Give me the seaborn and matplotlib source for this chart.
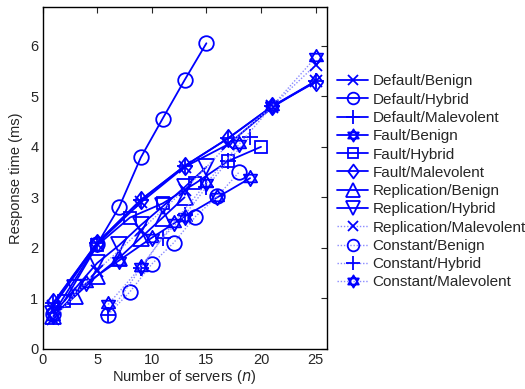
import numpy as np
import pandas as pd
import matplotlib
matplotlib.use("Agg")
import matplotlib.pyplot as plt
from matplotlib.path import Path
import seaborn as sns

# ---- data ----
default_benign_n = [1, 5, 9, 13, 17, 21, 25]
default_benign_t = [0.85, 2.08, 2.9, 3.6, 4.05, 4.78, 5.3]
default_hybrid_n = [1, 5, 7, 9, 11, 13, 15]
default_hybrid_t = [0.7, 2.07, 2.8, 3.79, 4.56, 5.32, 6.05]
default_malev_n = [1, 5, 9, 13, 17, 21, 25]
default_malev_t = [0.9, 2.1, 2.95, 3.62, 4.17, 4.8, 5.3]
fault_benign_n = [1, 4, 7, 10, 13, 16, 19]
fault_benign_t = [0.65, 1.3, 1.75, 2.2, 2.62, 3.0, 3.38]
fault_hybrid_n = [2, 5, 8, 11, 14, 17, 20]
fault_hybrid_t = [0.95, 2.05, 2.6, 2.88, 3.28, 3.72, 4.0]
fault_malev_n = [1, 5, 9, 13, 17, 21, 25]
fault_malev_t = [0.92, 2.1, 2.95, 3.62, 4.17, 4.8, 5.28]
repl_benign_n = [1, 3, 5, 7, 9, 11, 13]
repl_benign_t = [0.65, 1.05, 1.45, 1.8, 2.2, 2.6, 3.0]
repl_hybrid_n = [1, 3, 5, 7, 9, 11, 13, 15]
repl_hybrid_t = [0.7, 1.2, 1.7, 2.05, 2.45, 2.82, 3.2, 3.6]
repl_malev_n = [1, 5, 9, 13, 17, 21, 25]
repl_malev_t = [0.6, 1.55, 2.35, 3.15, 4.05, 4.8, 5.62]
const_benign_n = [6, 8, 10, 12, 14, 16, 18]
const_benign_t = [0.68, 1.13, 1.68, 2.1, 2.62, 3.02, 3.5]
const_hybrid_n = [6, 9, 11, 13, 15, 17, 19]
const_hybrid_t = [0.68, 1.6, 2.2, 2.65, 3.2, 3.72, 4.2]
const_malev_n = [6, 9, 12, 15, 18, 21, 25]
const_malev_t = [0.88, 1.62, 2.5, 3.28, 4.05, 4.8, 5.77]

labels = ["Default/Benign", "Default/Hybrid", "Default/Malevolent",
          "Fault/Benign", "Fault/Hybrid", "Fault/Malevolent",
          "Replication/Benign", "Replication/Hybrid", "Replication/Malevolent",
          "Constant/Benign", "Constant/Hybrid", "Constant/Malevolent"]
ns = [default_benign_n, default_hybrid_n, default_malev_n,
      fault_benign_n, fault_hybrid_n, fault_malev_n,
      repl_benign_n, repl_hybrid_n, repl_malev_n,
      const_benign_n, const_hybrid_n, const_malev_n]
ts = [default_benign_t, default_hybrid_t, default_malev_t,
      fault_benign_t, fault_hybrid_t, fault_malev_t,
      repl_benign_t, repl_hybrid_t, repl_malev_t,
      const_benign_t, const_hybrid_t, const_malev_t]

# ---- styles ----
hexagram = Path([(0, 1), (0.866, -0.5), (-0.866, -0.5), (0, 1),
                 (0, -1), (0.866, 0.5), (-0.866, 0.5), (0, -1)],
                [Path.MOVETO, Path.LINETO, Path.LINETO, Path.CLOSEPOLY,
                 Path.MOVETO, Path.LINETO, Path.LINETO, Path.CLOSEPOLY])
diamond = Path([(0, 1), (0.75, 0), (0, -1), (-0.75, 0), (0, 1)],
               [Path.MOVETO, Path.LINETO, Path.LINETO, Path.LINETO, Path.CLOSEPOLY])
markers = ['x', 'o', '+', hexagram, 's', diamond, '^', 'v', 'x', 'o', '+', hexagram]
msizes = [9, 10.5, 12, 11, 9, 12.5, 12, 12, 9, 10.5, 12, 11]
dotted = [False] * 9 + [True] * 3
dotted[8] = True

sns.set_style("white")
plt.rcParams["font.family"] = ["Liberation Sans", "DejaVu Sans"]
fig = plt.figure(figsize=(5.25, 3.89), dpi=100)
ax = fig.add_axes([0.081, 0.103, 0.541, 0.878])

for lab, n, t, m, ms, dt in zip(labels, ns, ts, markers, msizes, dotted):
    df = pd.DataFrame({"n": n, "t": t})
    sns.lineplot(data=df, x="n", y="t", ax=ax, label=lab,
                 color=("#8a8aff" if dt else "blue"),
                 linestyle=((0, (1, 1.3)) if dt else "-"),
                 linewidth=(1.0 if dt else 1.3),
                 marker=m, markersize=ms, markerfacecolor="none",
                 markeredgecolor="blue", markeredgewidth=1.3)

ax.set_xlim(0, 26)
ax.set_ylim(0, 6.76)
ax.set_xticks([0, 5, 10, 15, 20, 25])
ax.set_yticks([0, 1, 2, 3, 4, 5, 6])
ax.set_xlabel("Number of servers ($\\mathit{n}$)", fontsize=10.5, labelpad=1)
ax.set_ylabel("Response time (ms)", fontsize=10.5, labelpad=5)
ax.tick_params(direction="in", top=True, right=True, length=4, labelsize=10.5,
               width=0.8, pad=3)
for s in ax.spines.values():
    s.set_linewidth(1.0)
    s.set_color("black")

ax.legend(loc="upper left", bbox_to_anchor=(1.0, 0.835), frameon=False,
          fontsize=11, handlelength=2.0, handletextpad=0.3, labelspacing=0.28,
          borderaxespad=0.3, markerscale=0.8)

fig.savefig("out.png", dpi=100)
